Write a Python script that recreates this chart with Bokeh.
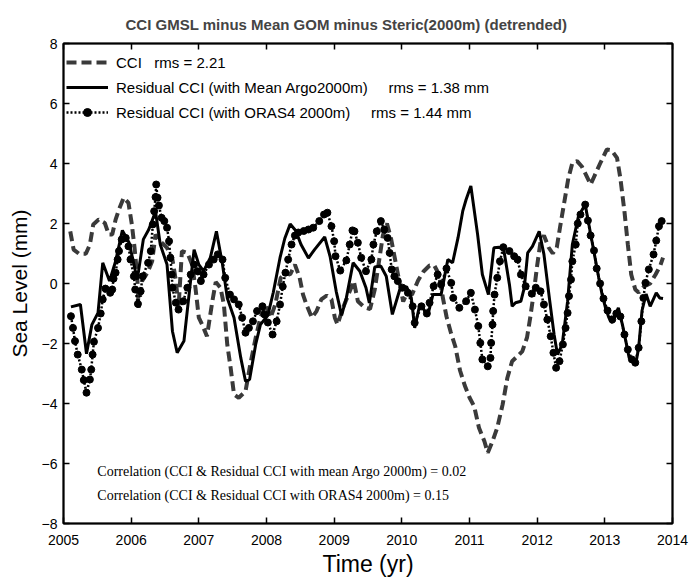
from bokeh.plotting import figure
from bokeh.models import Range1d, LinearAxis, Legend, LegendItem, Label, FixedTicker
from bokeh.embed import file_html
from bokeh.resources import INLINE

# ---------------- data ----------------
cci_t = [2005.10, 2005.15, 2005.23, 2005.33, 2005.39, 2005.44, 2005.52, 2005.61, 2005.67, 2005.72,
         2005.77, 2005.82, 2005.89, 2005.96, 2006.01, 2006.05, 2006.09, 2006.11, 2006.16, 2006.24,
         2006.31, 2006.36, 2006.43, 2006.53, 2006.61, 2006.66, 2006.70, 2006.75, 2006.83, 2006.90,
         2006.95, 2007.00, 2007.05, 2007.12, 2007.20, 2007.25, 2007.32, 2007.37, 2007.42, 2007.47,
         2007.52, 2007.59, 2007.69, 2007.76, 2007.84, 2007.91, 2007.99, 2008.06, 2008.13, 2008.21,
         2008.28, 2008.35, 2008.42, 2008.49, 2008.54, 2008.59, 2008.67, 2008.74, 2008.81, 2008.89,
         2008.96, 2009.01, 2009.05, 2009.13, 2009.23, 2009.29, 2009.35, 2009.45, 2009.53, 2009.60,
         2009.66, 2009.72, 2009.78, 2009.84, 2009.90, 2009.96, 2010.02, 2010.08, 2010.15, 2010.24,
         2010.32, 2010.41, 2010.48, 2010.55, 2010.60, 2010.66, 2010.72, 2010.79, 2010.86, 2010.93,
         2011.00, 2011.07, 2011.14, 2011.22, 2011.27, 2011.34, 2011.41, 2011.49, 2011.56, 2011.63,
         2011.71, 2011.78, 2011.85, 2011.90, 2011.95, 2012.00, 2012.05, 2012.10, 2012.17, 2012.23,
         2012.29, 2012.34, 2012.40, 2012.46, 2012.52, 2012.59, 2012.66, 2012.72, 2012.79, 2012.85,
         2012.93, 2013.03, 2013.10, 2013.18, 2013.23, 2013.29, 2013.34, 2013.39, 2013.45, 2013.50,
         2013.58, 2013.67, 2013.75, 2013.82, 2013.86]
cci_v = [1.74, 1.13, 0.99, 0.99, 1.30, 1.97, 2.13, 2.02, 1.63, 1.63,
         2.13, 2.47, 2.86, 2.69, 1.97, 1.19, 0.24, -0.81, 0.08, 0.36,
         0.74, 1.63, 1.41, 1.19, 0.80, 0.10, -0.81, 1.08, 1.02, 0.63,
         -0.14, -1.14, -1.37, -1.76, -0.59, 0.05, -0.14, -0.70, -2.03, -2.81,
         -3.70, -3.81, -3.59, -2.70, -1.81, -1.14, -0.70, -1.14, -0.70, 0.19,
         0.35, 0.30, 0.63, 0.19, -0.37, -0.70, -1.14, -0.92, -0.53, -0.40,
         -0.53, -1.14, -1.37, -0.81, -0.26, 0.08, -0.59, -0.80, -0.85, -0.20,
         0.70, 1.60, 2.00, 1.50, 0.80, 0.10, -0.60, -0.30, -0.37, 0.10,
         0.40, 0.60, 0.60, 0.30, -0.40, -1.10, -1.60, -2.10, -2.90, -3.40,
         -3.80, -4.10, -4.81, -5.26, -5.64, -5.26, -4.81, -4.03, -3.14, -2.59,
         -2.42, -2.26, -1.80, -1.10, -0.30, 0.60, 1.40, 1.60, 1.20, 1.00,
         1.20, 1.90, 2.70, 3.50, 4.02, 4.08, 3.90, 3.63, 3.30, 3.60,
         4.00, 4.47, 4.44, 4.19, 3.50, 2.40, 1.30, 0.30, -0.20, -0.30,
         -0.10, 0.00, 0.30, 0.60, 0.86]

argo_t = [2005.11, 2005.25, 2005.34, 2005.42, 2005.51, 2005.58, 2005.68, 2005.77, 2005.87, 2005.97,
          2006.09, 2006.18, 2006.26, 2006.36, 2006.43, 2006.53, 2006.61, 2006.68, 2006.78, 2006.85,
          2006.93, 2007.00, 2007.07, 2007.17, 2007.26, 2007.35, 2007.42, 2007.52, 2007.62, 2007.69,
          2007.75, 2007.84, 2007.91, 2008.02, 2008.10, 2008.20, 2008.27, 2008.35, 2008.43, 2008.51,
          2008.62, 2008.71, 2008.86, 2008.94, 2009.03, 2009.11, 2009.18, 2009.28, 2009.38, 2009.47,
          2009.52, 2009.60, 2009.69, 2009.77, 2009.86, 2009.97, 2010.07, 2010.14, 2010.19, 2010.26,
          2010.31, 2010.38, 2010.46, 2010.58, 2010.68, 2010.75, 2010.83, 2010.90, 2010.95, 2011.02,
          2011.12, 2011.19, 2011.28, 2011.36, 2011.44, 2011.51, 2011.59, 2011.63, 2011.68, 2011.76,
          2011.81, 2011.86, 2011.93, 2012.03, 2012.10, 2012.18, 2012.25, 2012.30, 2012.37, 2012.45,
          2012.52, 2012.61, 2012.71, 2012.76, 2012.81, 2012.86, 2012.91, 2012.96, 2013.01, 2013.06,
          2013.11, 2013.20, 2013.26, 2013.31, 2013.36, 2013.41, 2013.46, 2013.50, 2013.55, 2013.61,
          2013.67, 2013.76, 2013.81, 2013.86]
argo_v = [-0.78, -0.70, -2.34, -1.37, -0.98, 0.69, 0.08, 0.74, 1.77, 1.36,
          0.13, 1.47, 1.80, 2.40, 1.30, 0.63, -1.59, -2.31, -1.92, -0.48,
          1.13, 0.63, 0.41, 0.86, 1.74, 0.63, -0.48, -1.14, -2.48, -3.26,
          -3.20, -2.03, -1.37, -1.06, -0.30, 0.86, 1.50, 1.98, 1.77, 1.30,
          0.85, 1.13, 1.55, 0.90, -0.26, -1.06, -0.48, 0.69, 0.41, -0.14,
          -0.65, 0.55, 0.58, 0.24, -1.03, -0.20, -0.10, -0.48, -1.48, -0.76,
          -0.81, -1.09, -0.37, -0.37, 0.80, 0.69, 1.52, 2.41, 2.80, 3.25,
          1.63, 0.30, -0.37, 1.19, 1.21, 1.08, -0.03, -0.76, -0.64, -0.59,
          -0.14, 1.02, 1.24, 1.74, 0.97, -0.48, -1.70, -2.37, -2.03, -0.59,
          1.30, 2.24, 2.63, 2.02, 1.41, 0.80, 0.19, -0.37, -0.81, -1.14,
          -1.31, -0.81, -1.37, -1.92, -2.48, -2.59, -2.64, -2.14, -0.90, -0.35,
          -0.76, -0.31, -0.48, -0.50]

oras_t = [2005.11, 2005.14, 2005.17, 2005.21, 2005.27, 2005.30, 2005.34, 2005.39, 2005.41, 2005.43,
          2005.45, 2005.51, 2005.55, 2005.58, 2005.62, 2005.69, 2005.72, 2005.74, 2005.77, 2005.80,
          2005.82, 2005.86, 2005.92, 2005.96, 2005.99, 2006.04, 2006.06, 2006.10, 2006.14, 2006.17,
          2006.25, 2006.29, 2006.32, 2006.34, 2006.36, 2006.37, 2006.39, 2006.41, 2006.45, 2006.49,
          2006.53, 2006.56, 2006.58, 2006.60, 2006.61, 2006.66, 2006.70, 2006.77, 2006.83, 2006.88,
          2006.93, 2006.98, 2007.03, 2007.07, 2007.15, 2007.22, 2007.28, 2007.35, 2007.39, 2007.46,
          2007.52, 2007.59, 2007.64, 2007.69, 2007.74, 2007.80, 2007.86, 2007.94, 2007.97, 2008.02,
          2008.09, 2008.15, 2008.20, 2008.24, 2008.28, 2008.32, 2008.37, 2008.42, 2008.47, 2008.55,
          2008.62, 2008.69, 2008.78, 2008.85, 2008.90, 2008.96, 2009.00, 2009.02, 2009.09, 2009.18,
          2009.23, 2009.27, 2009.30, 2009.35, 2009.40, 2009.47, 2009.55, 2009.58, 2009.63, 2009.69,
          2009.74, 2009.79, 2009.82, 2009.85, 2009.89, 2009.94, 2010.01, 2010.09, 2010.16, 2010.19,
          2010.29, 2010.37, 2010.41, 2010.47, 2010.53, 2010.58, 2010.66, 2010.73, 2010.76, 2010.85,
          2010.95, 2011.02, 2011.08, 2011.13, 2011.16, 2011.19, 2011.27, 2011.31, 2011.32, 2011.34,
          2011.35, 2011.37, 2011.41, 2011.45, 2011.50, 2011.59, 2011.66, 2011.71, 2011.76, 2011.83,
          2011.92, 2011.98, 2012.05, 2012.10, 2012.15, 2012.20, 2012.24, 2012.28, 2012.33, 2012.38,
          2012.42, 2012.45, 2012.47, 2012.50, 2012.52, 2012.57, 2012.60, 2012.64, 2012.71, 2012.75,
          2012.79, 2012.84, 2012.88, 2012.93, 2012.98, 2013.04, 2013.11, 2013.17, 2013.23, 2013.29,
          2013.34, 2013.40, 2013.45, 2013.50, 2013.54, 2013.57, 2013.60, 2013.65, 2013.72, 2013.76,
          2013.80, 2013.84]
oras_v = [-1.09, -1.48, -1.92, -2.37, -2.87, -3.22, -3.64, -3.20, -2.87, -2.37,
          -1.94, -1.48, -1.00, -0.53, -0.17, -0.31, -0.20, 0.16, 0.36, 0.80,
          1.08, 1.47, 1.52, 1.24, 0.80, 0.24, -0.20, -0.68, -0.26, 0.24,
          0.69, 1.08, 1.97, 2.41, 2.88, 3.30, 2.86, 2.60, 2.19, 2.08,
          1.86, 1.41, 0.86, 0.30, -0.14, -0.64, -0.87, -0.59, -0.14, 0.30,
          0.63, 0.41, 0.08, 0.30, 0.63, 0.80, 0.97, 0.80, 0.19, -0.37,
          -0.53, -0.70, -1.14, -1.64, -1.48, -1.26, -0.92, -0.76, -1.03, -1.30,
          -1.70, -1.26, -0.70, -0.10, 0.36, 0.80, 1.30, 1.60, 1.70, 1.75,
          1.80, 1.86, 2.08, 2.30, 2.36, 1.91, 1.41, 0.91, 0.43, 0.77,
          1.30, 1.77, 1.74, 1.36, 0.86, 0.41, 0.80, 1.30, 1.74, 2.08,
          1.80, 1.52, 1.02, 0.47, 0.24, 0.08, -0.14, -0.31, -0.76, -1.31,
          -0.76, -1.00, -0.64, -0.09, 0.30, -0.03, 0.50, 0.02, -0.48, -0.81,
          -0.59, -0.31, -0.87, -1.42, -1.98, -2.53, -2.76, -2.48, -1.98, -1.37,
          -0.92, -0.37, 0.19, 0.74, 1.21, 1.08, 0.91, 0.80, 0.30, -0.09,
          -0.34, -0.14, -0.26, -0.70, -1.20, -1.76, -2.31, -2.81, -2.59, -2.03,
          -1.48, -0.98, -0.42, 0.13, 0.74, 1.30, 2.00, 2.30, 2.63, 2.10,
          1.60, 1.10, 0.50, 0.00, -0.50, -0.90, -1.20, -1.00, -1.10, -1.70,
          -2.20, -2.53, -2.64, -2.14, -1.26, -0.48, 0.02, 0.47, 0.97, 1.43,
          1.91, 2.08]

x_ticks = [2005, 2006, 2007, 2008, 2009, 2010, 2011, 2012, 2013, 2014]
y_ticks = [-8, -6, -4, -2, 0, 2, 4, 6, 8]

title_text = "CCI GMSL minus Mean GOM minus Steric(2000m) (detrended)"
label_cci = "CCI\u00a0\u00a0\u00a0rms = 2.21"
label_argo = "Residual CCI (with Mean Argo2000m)\u00a0\u00a0\u00a0\u00a0\u00a0rms = 1.38 mm"
label_oras = "Residual CCI (with ORAS4 2000m)\u00a0\u00a0\u00a0\u00a0\u00a0rms = 1.44 mm"
corr1 = "Correlation (CCI & Residual CCI with mean Argo 2000m) = 0.02"
corr2 = "Correlation (CCI & Residual CCI with ORAS4 2000m) = 0.15"

SANS = "Liberation Sans"
SERIF = "Liberation Serif"

p = figure(width=691, height=579, output_backend="svg", toolbar_location=None,
           x_range=Range1d(2005, 2014), y_range=Range1d(-8, 8),
           min_border_left=63, min_border_right=19, min_border_top=43, min_border_bottom=56,
           title=title_text)
p.title.text_font = SANS
p.title.text_font_size = "15px"
p.title.text_font_style = "bold"
p.title.align = "left"
p.title.offset = 62
p.title.standoff = 21

p.grid.visible = False
p.outline_line_color = "black"
p.outline_line_width = 2
p.background_fill_color = "white"
p.border_fill_color = "white"


def style_axis(ax, labels=True):
    ax.axis_line_color = "black"
    ax.axis_line_width = 1.5
    ax.major_tick_in = 6
    ax.major_tick_out = 0
    ax.major_tick_line_width = 1.5
    ax.minor_tick_in = 0
    ax.minor_tick_out = 0
    ax.major_label_text_font = SANS
    if labels:
        ax.major_label_text_font_size = "14px"
        ax.major_label_text_color = "black"
    else:
        ax.major_label_text_font_size = "1px"
        ax.major_label_text_color = None
        ax.major_label_standoff = 0
    ax.axis_label_text_font = SANS
    ax.axis_label_text_font_style = "normal"
    ax.axis_label_text_color = "black"


xax = p.xaxis[0]
yax = p.yaxis[0]
xax.ticker = FixedTicker(ticks=x_ticks)
yax.ticker = FixedTicker(ticks=y_ticks)
style_axis(xax)
style_axis(yax)
xax.axis_label = "Time (yr)"
xax.axis_label_text_font_size = "23px"
xax.major_label_standoff = 11
xax.axis_label_standoff = 3
yax.axis_label = "Sea Level (mm)"
yax.axis_label_text_font_size = "21px"
yax.major_label_standoff = 6
yax.axis_label_standoff = 8

top_ax = LinearAxis(ticker=FixedTicker(ticks=x_ticks))
style_axis(top_ax, labels=False)
right_ax = LinearAxis(ticker=FixedTicker(ticks=y_ticks))
style_axis(right_ax, labels=False)
p.add_layout(top_ax, "above")
p.add_layout(right_ax, "right")

r_cci = p.line(cci_t, cci_v, line_color="#3a3a3a", line_width=4, line_dash="10 5")
r_argo = p.line(argo_t, argo_v, line_color="black", line_width=3)
r_oras_l = p.line(oras_t, oras_v, line_color="black", line_width=2.5, line_dash="2 2")
r_oras_m = p.scatter(oras_t, oras_v, marker="circle", size=7, fill_color="black", line_color="black")

legend = Legend(items=[
    LegendItem(label=label_cci, renderers=[r_cci]),
    LegendItem(label=label_argo, renderers=[r_argo]),
    LegendItem(label=label_oras, renderers=[r_oras_l, r_oras_m]),
], location=(3, 401))
legend.border_line_color = None
legend.background_fill_alpha = 0
legend.margin = 0
legend.padding = 8
legend.spacing = 5
legend.glyph_width = 42
legend.glyph_height = 20
legend.label_standoff = 8
legend.label_text_font = SANS
legend.label_text_font_size = "15px"
legend.label_text_color = "black"
p.add_layout(legend)

for txt, yv in [(corr1, -6.25), (corr2, -7.05)]:
    p.add_layout(Label(x=2005.5, y=yv, text=txt, text_font=SERIF,
                       text_font_size="14px", text_color="black", text_baseline="middle"))

open("out.html", "w").write(file_html(p, INLINE))
